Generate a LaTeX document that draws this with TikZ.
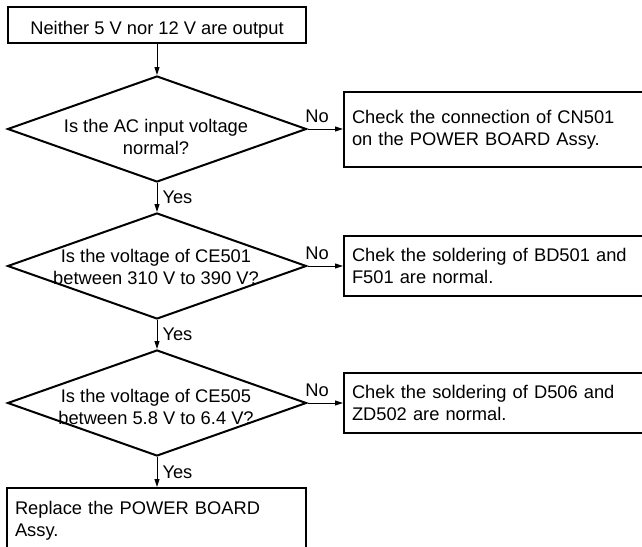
\documentclass[tikz,border=0pt]{standalone}
\usepackage{fontspec}
\setmainfont{Liberation Sans}
\usetikzlibrary{shapes.geometric,arrows.meta}
\tikzset{
  every node/.style={font=\fontsize{18.3pt}{22pt}\selectfont, text=black},
  box/.style={draw, line width=2pt, rectangle, inner xsep=8pt, inner ysep=0pt},
  dia/.style={draw, line width=2pt, diamond, minimum width=299pt, minimum height=106pt, inner sep=0pt},
  qtext/.style={align=center, inner sep=0pt},
  flow/.style={line width=1pt, -{Triangle[length=8pt,width=5pt]}},
  lab/.style={inner sep=1pt, text depth=0pt}
}
\begin{document}
\begin{tikzpicture}[x=1pt,y=-1pt]
\clip (0,0) rectangle (642,546);
\useasboundingbox (0,0) rectangle (642,546);

\node[box, minimum width=298pt, minimum height=36pt, text height=18pt, text depth=0pt] (start) at (157,25) {Neither 5 V nor 12 V are output};

\node[dia] (d1) at (157,129) {};
\node[qtext] (d1t) at (156,136.5) {Is the AC input voltage\\normal?};
\node[dia] (d2) at (157,266) {};
\node[qtext] (d2t) at (156,266.5) {Is the voltage of CE501\\between 310 V to 390 V?};
\node[dia] (d3) at (157,403) {};
\node[qtext] (d3t) at (156,406.5) {Is the voltage of CE505\\between 5.8 V to 6.4 V?};

\node[box, anchor=west, minimum width=316pt, minimum height=75pt, text width=300pt, align=left] (b1) at (343,129.5) {Check the connection of CN501\\on the POWER BOARD Assy.};
\node[box, anchor=west, minimum width=316pt, minimum height=60pt, text width=300pt, align=left] (b2) at (343,266) {Chek the soldering of BD501 and\\F501 are normal.};
\node[box, anchor=west, minimum width=316pt, minimum height=60pt, text width=300pt, align=left] (b3) at (343,403) {Chek the soldering of D506 and\\ZD502 are normal.};

\node[box, anchor=north west, minimum width=299pt, text width=283pt, align=left, inner ysep=13pt, text depth=45pt] (end) at (6,487) {Replace the POWER BOARD\\Assy.};

\draw[flow] (start.south) -- (d1.north);
\draw[flow] (d1.south) -- node[right=4pt, lab] {Yes} (d2.north);
\draw[flow] (d2.south) -- node[right=4pt, lab] {Yes} (d3.north);
\draw[flow] (d3.south) -- node[right=4pt, lab] {Yes} (end.north -| d3.south);

\draw[flow] (d1.east) -- node[pos=0.27, above=5pt, lab] {No} (d1.east -| b1.west);
\draw[flow] (d2.east) -- node[pos=0.27, above=5pt, lab] {No} (d2.east -| b2.west);
\draw[flow] (d3.east) -- node[pos=0.27, above=5pt, lab] {No} (d3.east -| b3.west);
\end{tikzpicture}
\end{document}
